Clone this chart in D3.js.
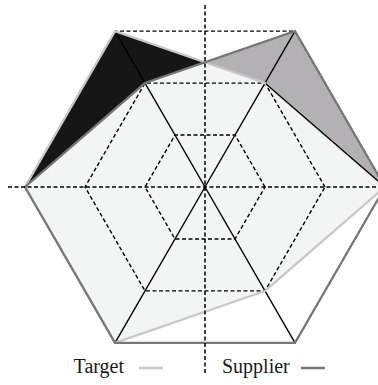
<!DOCTYPE html>
<html><head><meta charset="utf-8">
<script src="https://cdn.jsdelivr.net/npm/d3@7"></script>
<style>body{margin:0;background:#fff} svg{display:block} .lg{font-family:"Liberation Serif","Times New Roman",serif;font-size:20px;fill:#1a1a1a}</style>
</head><body>
<script>
// Six axes, counter-clockwise from the right (0°, 60°, 120°, 180°, 240°, 300°)
const axes = ["A1", "A2", "A3", "A4", "A5", "A6"];
const levels = [1, 2, 3];
const maxValue = 3;
const target = [3, 2, 3, 3, 3, 2];
const supplier = [3, 3, 2, 3, 3, 3];
const seriesNames = ["Target", "Supplier"];

const W = 378, H = 385, cx = 205, cy = 187, R = 180;
const colTarget = "#c9c7c9", colSupplier = "#777777";

const svg = d3.select("body").append("svg").attr("width", W).attr("height", H);
const defs = svg.append("defs");

const r = d3.scaleLinear().domain([0, maxValue]).range([0, R]);
const theta = d3.scaleLinear().domain([0, axes.length]).range([0, 2 * Math.PI]);
// lineRadial angle is measured clockwise from 12 o'clock
const radial = d3.lineRadial()
  .angle((d, i) => Math.PI / 2 - theta(i))
  .radius(d => r(d))
  .curve(d3.curveLinearClosed);

const g = svg.append("g").attr("transform", `translate(${cx},${cy})`);

// clip paths
defs.append("clipPath").attr("id", "upper")
  .append("rect").attr("x", -cx).attr("y", -cy).attr("width", W).attr("height", cy);
defs.append("clipPath").attr("id", "inTarget")
  .append("path").attr("d", radial(target));
defs.append("clipPath").attr("id", "upperRight")
  .append("rect").attr("x", r(2) * Math.cos(theta(1)) + 1).attr("y", -cy).attr("width", W).attr("height", cy - 1);

// fills
g.append("path").attr("d", radial(supplier)).attr("fill", "#b3b1b3").attr("clip-path", "url(#upper)");
g.append("path").attr("d", radial(target)).attr("fill", "#161616");
g.append("path").attr("d", radial(supplier)).attr("fill", "#f3f4f4").attr("clip-path", "url(#inTarget)");

// grid hexagons
levels.forEach(l => {
  g.append("path").attr("d", radial(axes.map(() => l)))
    .attr("fill", "none").attr("stroke", "#000").attr("stroke-width", 1.4)
    .attr("stroke-dasharray", "4,2.5");
});
// solid spokes (diagonal axes)
axes.forEach((a, i) => {
  const t = theta(i);
  if (Math.abs(Math.sin(t)) < 1e-6) return;
  g.append("line").attr("x1", 0).attr("y1", 0)
    .attr("x2", r(maxValue) * Math.cos(t)).attr("y2", -r(maxValue) * Math.sin(t))
    .attr("stroke", "#000").attr("stroke-width", 1.4);
});

// series lines
g.append("path").attr("d", radial(target)).attr("fill", "none")
  .attr("stroke", colTarget).attr("stroke-width", 2.2).attr("stroke-linejoin", "miter");
// black edge of the upper grey region
g.append("path").attr("d", radial(target)).attr("fill", "none")
  .attr("stroke", "#000").attr("stroke-width", 1.4)
  .attr("clip-path", "url(#upperRight)");
g.append("path").attr("d", radial(supplier)).attr("fill", "none")
  .attr("stroke", colSupplier).attr("stroke-width", 2.2).attr("stroke-linejoin", "miter");

// horizontal and vertical dashed axes
svg.append("line").attr("x1", 8).attr("x2", W).attr("y1", cy).attr("y2", cy)
  .attr("stroke", "#000").attr("stroke-width", 1.5).attr("stroke-dasharray", "4,2.5");
svg.append("line").attr("x1", cx).attr("x2", cx).attr("y1", 5).attr("y2", 373)
  .attr("stroke", "#000").attr("stroke-width", 1.5).attr("stroke-dasharray", "4,2.5");

// legend
const legend = svg.append("g");
legend.append("text").attr("class", "lg").attr("x", 124).attr("y", 373).attr("text-anchor", "end").text(seriesNames[0]);
legend.append("line").attr("x1", 139).attr("x2", 163).attr("y1", 368).attr("y2", 368)
  .attr("stroke", colTarget).attr("stroke-width", 2.5);
legend.append("text").attr("class", "lg").attr("x", 222).attr("y", 373).text(seriesNames[1]);
legend.append("line").attr("x1", 301).attr("x2", 325).attr("y1", 368).attr("y2", 368)
  .attr("stroke", colSupplier).attr("stroke-width", 2.5);
</script>
</body></html>
